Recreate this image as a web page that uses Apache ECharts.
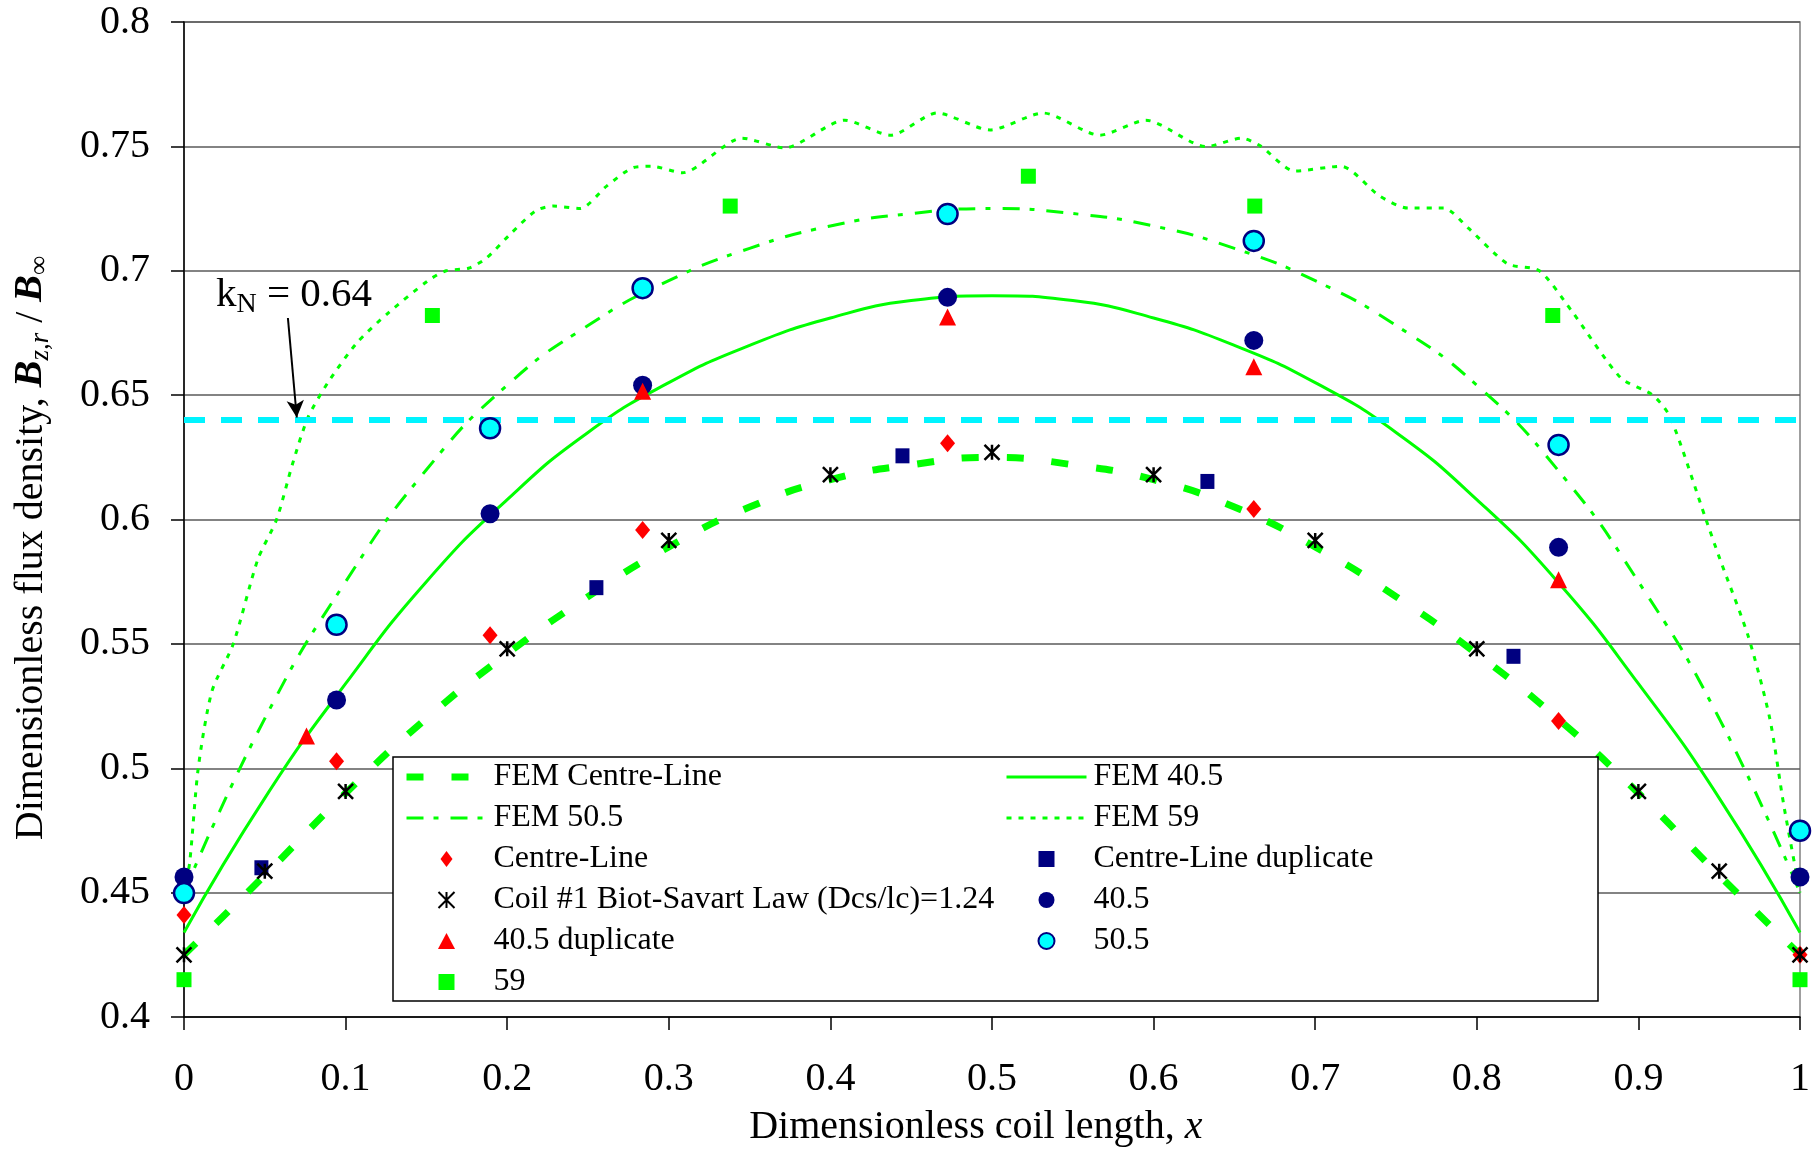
<!DOCTYPE html>
<html>
<head>
<meta charset="utf-8">
<script src="https://cdn.jsdelivr.net/npm/echarts@6/dist/echarts.min.js"></script>
<style>
  html, body { margin: 0; padding: 0; background: #ffffff; }
  #chart { width: 1813px; height: 1153px; }
</style>
</head>
<body>
<div id="chart"></div>
<script>
// ---- data -------------------------------------------------------------
const xTicks = [0, 0.1, 0.2, 0.3, 0.4, 0.5, 0.6, 0.7, 0.8, 0.9, 1];
const yTicks = [0.4, 0.45, 0.5, 0.55, 0.6, 0.65, 0.7, 0.75, 0.8];

// FEM curves sampled along the coil
const xFem = [0, 0.05, 0.1, 0.15, 0.2, 0.25, 0.3, 0.35, 0.4, 0.45, 0.5,
              0.55, 0.6, 0.65, 0.7, 0.75, 0.8, 0.85, 0.9, 0.95, 1];
const femCentre = [0.425, 0.457, 0.490, 0.520, 0.546, 0.569, 0.589, 0.605, 0.616, 0.622, 0.625,
                   0.622, 0.616, 0.605, 0.589, 0.569, 0.546, 0.520, 0.490, 0.457, 0.425];
const fem405 = [0.434, 0.488, 0.534, 0.575, 0.608, 0.635, 0.655, 0.670, 0.681, 0.688, 0.690,
                0.688, 0.681, 0.670, 0.655, 0.635, 0.608, 0.575, 0.534, 0.488, 0.434];
const fem505 = [0.450, 0.520, 0.575, 0.620, 0.654, 0.678, 0.696, 0.709, 0.718, 0.723, 0.725,
                0.723, 0.718, 0.709, 0.696, 0.678, 0.654, 0.620, 0.575, 0.520, 0.450];

// FEM 59 (wavy profile)
const fem59X = [0, 0.0035, 0.0088, 0.0173, 0.0305, 0.0457, 0.0573, 0.067, 0.0767, 0.089,
                0.107, 0.1263, 0.151, 0.1622, 0.176, 0.187, 0.2008, 0.2174, 0.2285, 0.2451,
                0.2615, 0.2782, 0.2893, 0.3084, 0.3452, 0.3716, 0.4088, 0.4373, 0.4659, 0.4988,
                0.5317, 0.5667, 0.5952, 0.6325, 0.6545, 0.666, 0.6874, 0.7159, 0.740, 0.7575,
                0.7795, 0.7948, 0.819, 0.8387, 0.8585, 0.889, 0.9089, 0.9198, 0.9418, 0.9505,
                0.968, 0.9813, 0.990, 1];
const fem59Y = [0.450, 0.462, 0.500, 0.531, 0.550, 0.584, 0.600, 0.622, 0.641, 0.655,
                0.671, 0.683, 0.696, 0.700, 0.701, 0.705, 0.714, 0.724, 0.726, 0.725,
                0.734, 0.7415, 0.742, 0.7394, 0.7533, 0.7494, 0.7605, 0.7545, 0.7634, 0.7566,
                0.7634, 0.7545, 0.7605, 0.7499, 0.7533, 0.7502, 0.7401, 0.742, 0.730, 0.7252,
                0.7252, 0.7171, 0.7028, 0.700, 0.684, 0.657, 0.650, 0.641, 0.600, 0.584,
                0.553, 0.520, 0.485, 0.450];

// measured points
const clX = [0, 0.0944, 0.1894, 0.2838, 0.4725, 0.662, 0.8506, 1];
const clY = [0.441, 0.5028, 0.5535, 0.5958, 0.6307, 0.6042, 0.519, 0.425];

const clDupX = [0.0479, 0.2552, 0.4446, 0.6333, 0.8227];
const clDupY = [0.460, 0.5726, 0.6256, 0.6153, 0.545];

const bsX = [0, 0.05, 0.1, 0.2, 0.3, 0.4, 0.5, 0.6, 0.7, 0.8, 0.9, 0.95, 1];
const bsY = [0.425, 0.4586, 0.4907, 0.548, 0.5916, 0.618, 0.627, 0.618, 0.5916, 0.548, 0.4907, 0.4586, 0.425];

const m405X = [0, 0.0944, 0.1894, 0.2838, 0.4725, 0.662, 0.8506, 1];
const m405Y = [0.4563, 0.5274, 0.6023, 0.654, 0.6893, 0.672, 0.5888, 0.4563];

const m405DupX = [0.0758, 0.2838, 0.4725, 0.662, 0.8506];
const m405DupY = [0.513, 0.6516, 0.6814, 0.6614, 0.5758];

const m505X = [0, 0.0944, 0.1894, 0.2838, 0.4725, 0.662, 0.8506, 1];
const m505Y = [0.4498, 0.5577, 0.6367, 0.693, 0.7228, 0.712, 0.630, 0.4749];

const m59X = [0, 0.1537, 0.338, 0.5225, 0.6626, 0.847, 1];
const m59Y = [0.415, 0.682, 0.726, 0.738, 0.726, 0.682, 0.415];

const kN = 0.64;

// ---- styling ----------------------------------------------------------
const FONT = '"Liberation Serif", "Times New Roman", serif';
const GREEN = '#00ff00';
const RED = '#ff0000';
const NAVY = '#000080';
const CYAN = '#00ffff';
const KN_COLOR = '#00f4ff';
const ASTERISK = 'path://M0,0L10,10M10,0L0,10M5,0L5,10';
const DIAMOND = 'path://M6,0L12,8L6,16L0,8Z';
const TRIANGLE = 'path://M8,0L16,15L0,15Z';
const SQUARE = 'path://M0,0H10V10H0Z';

// legend entries, two columns
const legendLeft = [
  { name: 'FEM Centre-Line', lineStyle: { width: 7 } },
  { name: 'FEM 50.5', lineStyle: { width: 3 } },
  { name: 'Centre-Line', icon: DIAMOND },
  { name: 'Coil #1 Biot-Savart Law (Dcs/lc)=1.24', icon: ASTERISK },
  { name: '40.5 duplicate', icon: TRIANGLE },
  { name: '59', icon: SQUARE }
];
const legendRight = [
  { name: 'FEM 40.5', lineStyle: { width: 3 } },
  { name: 'FEM 59', lineStyle: { width: 3 } },
  { name: 'Centre-Line duplicate', icon: SQUARE },
  { name: '40.5', icon: 'circle' },
  { name: '50.5', icon: 'circle' }
];

const zip = (xs, ys) => xs.map((x, i) => [x, ys[i]]);

function femLine(name, ys, width, dash, xs) {
  return {
    name, type: 'line', data: zip(xs || xFem, ys), smooth: xs ? 0.25 : true,
    symbol: 'none', showSymbol: false, z: 2,
    lineStyle: { color: GREEN, width, type: dash },
    itemStyle: { color: 'rgba(0,0,0,0)', borderWidth: 0 }
  };
}
function markers(name, xs, ys, symbol, size, style) {
  return {
    name, type: 'scatter', data: zip(xs, ys), symbol, symbolSize: size, z: 3,
    itemStyle: Object.assign({ opacity: 1 }, style)
  };
}

const chart = echarts.init(document.getElementById('chart'), null, { renderer: 'canvas' });

const legendCommon = {
  orient: 'vertical', padding: 0, itemWidth: 80, itemHeight: 16, itemGap: 9,
  selectedMode: false, z: 20, symbolKeepAspect: true,
  textStyle: { fontFamily: FONT, fontSize: 32, color: '#000', lineHeight: 32, padding: [0, 0, 0, 2] }
};

chart.setOption({
  animation: false,
  backgroundColor: '#ffffff',
  grid: { left: 184, right: 11, top: 22, bottom: 136, show: true, borderColor: '#808080', borderWidth: 1.5 },
  xAxis: {
    type: 'value', min: 0, max: 1, interval: 0.1,
    axisLine: { show: true, onZero: false, lineStyle: { color: '#000', width: 1.5 } },
    axisTick: { show: true, inside: false, length: 13, lineStyle: { color: '#000', width: 1.5 } },
    splitLine: { show: false },
    axisLabel: {
      margin: 42, fontFamily: FONT, fontSize: 40, color: '#000',
      formatter: v => String(xTicks.find(t => Math.abs(t - v) < 1e-9) ?? v)
    }
  },
  yAxis: {
    type: 'value', min: 0.4, max: 0.8, interval: 0.05,
    axisLine: { show: true, onZero: false, lineStyle: { color: '#000', width: 1.5 } },
    axisTick: { show: true, inside: false, length: 13, lineStyle: { color: '#000', width: 1.5 } },
    splitLine: { show: true, lineStyle: { color: '#5a5a5a', width: 1.5 } },
    axisLabel: {
      margin: 34, fontFamily: FONT, fontSize: 40, color: '#000',
      formatter: v => String(yTicks.find(t => Math.abs(t - v) < 1e-9) ?? v)
    }
  },
  legend: [
    Object.assign({}, legendCommon, { left: 403, top: 761, data: legendLeft }),
    Object.assign({}, legendCommon, { left: 1005, top: 761, data: legendRight })
  ],
  series: [
    femLine('FEM Centre-Line', femCentre, 7, [17, 28]),
    femLine('FEM 40.5', fem405, 3, 'solid'),
    femLine('FEM 50.5', fem505, 3, [17, 10, 5, 12]),
    femLine('FEM 59', fem59Y, 3, [5, 7], fem59X),
    {
      name: 'kN', type: 'line', data: [[0, kN], [1, kN]], symbol: 'none', z: 2,
      lineStyle: { color: KN_COLOR, width: 6, type: [21, 16] },
      markLine: {
        silent: true, symbolSize: [13, 17], label: { show: false },
        lineStyle: { color: '#000', width: 2, type: 'solid' },
        data: [[
          { coord: [0.0643, 0.681], symbol: 'none' },
          { coord: [0.0698, kN + 0.001], symbol: 'arrow' }
        ]]
      }
    },
    markers('Centre-Line', clX, clY, 'diamond', [15, 18], { color: RED }),
    markers('Centre-Line duplicate', clDupX, clDupY, 'rect', [14, 15], { color: NAVY }),
    markers('Coil #1 Biot-Savart Law (Dcs/lc)=1.24', bsX, bsY, ASTERISK, [15, 15],
            { color: 'rgba(0,0,0,0)', borderColor: '#000', borderWidth: 2.5 }),
    markers('40.5', m405X, m405Y, 'circle', 19, { color: NAVY }),
    markers('40.5 duplicate', m405DupX, m405DupY, 'triangle', [17, 17], { color: RED }),
    markers('50.5', m505X, m505Y, 'circle', 20, { color: CYAN, borderColor: NAVY, borderWidth: 2.5 }),
    markers('59', m59X, m59Y, 'rect', [15, 15], { color: GREEN })
  ]
});

// ---- text built from runs of differently styled pieces -------------------
const measureCtx = document.createElement('canvas').getContext('2d');
function textRuns(list) {
  let x = 0;
  const els = [];
  list.forEach(r => {
    measureCtx.font = r.font;
    const w = measureCtx.measureText(r.text).width;
    els.push({
      type: 'text', x: x, y: r.dy || 0, z: 30,
      style: { text: r.text, font: r.font, fill: '#000', align: 'left', verticalAlign: 'middle' }
    });
    x += w;
  });
  return { els, width: x };
}
const f = (size, style) => (style ? style + ' ' : '') + size + 'px ' + FONT;

// vertical axis title
const yTitle = textRuns([
  { text: 'Dimensionless flux density, ', font: f(40) },
  { text: 'B', font: f(40, 'italic bold') },
  { text: 'z,r', font: f(27, 'italic'), dy: 10 },
  { text: ' / ', font: f(40) },
  { text: 'B', font: f(40, 'italic bold') },
  { text: '\u221E', font: f(27), dy: 9 }
]);
yTitle.els.forEach(e => { e.x -= yTitle.width / 2; });

// horizontal axis title
const xTitle = textRuns([
  { text: 'Dimensionless coil length, ', font: f(40) },
  { text: 'x', font: f(40, 'italic') }
]);
xTitle.els.forEach(e => { e.x -= xTitle.width / 2; });

// k_N annotation
const kLabel = textRuns([
  { text: 'k', font: f(41) },
  { text: 'N', font: f(28), dy: 9 },
  { text: ' = ' + kN.toFixed(2), font: f(41) }
]);
const kPos = chart.convertToPixel({ xAxisIndex: 0, yAxisIndex: 0 }, [0.0198, 0.69]);
const xMid = chart.convertToPixel({ xAxisIndex: 0 }, 0.49);

chart.setOption({
  graphic: [
    {
      id: 'legendFrame', type: 'rect', z: 10, silent: true,
      shape: { x: 393, y: 757, width: 1205, height: 244 },
      style: { fill: '#ffffff', stroke: '#000', lineWidth: 1.5 }
    },
    { id: 'yTitle', type: 'group', x: 31, y: 548, rotation: Math.PI / 2, children: yTitle.els },
    { id: 'xTitle', type: 'group', x: xMid, y: 1127, children: xTitle.els },
    { id: 'kLabel', type: 'group', x: kPos[0], y: kPos[1], children: kLabel.els }
  ]
});
</script>
</body>
</html>
